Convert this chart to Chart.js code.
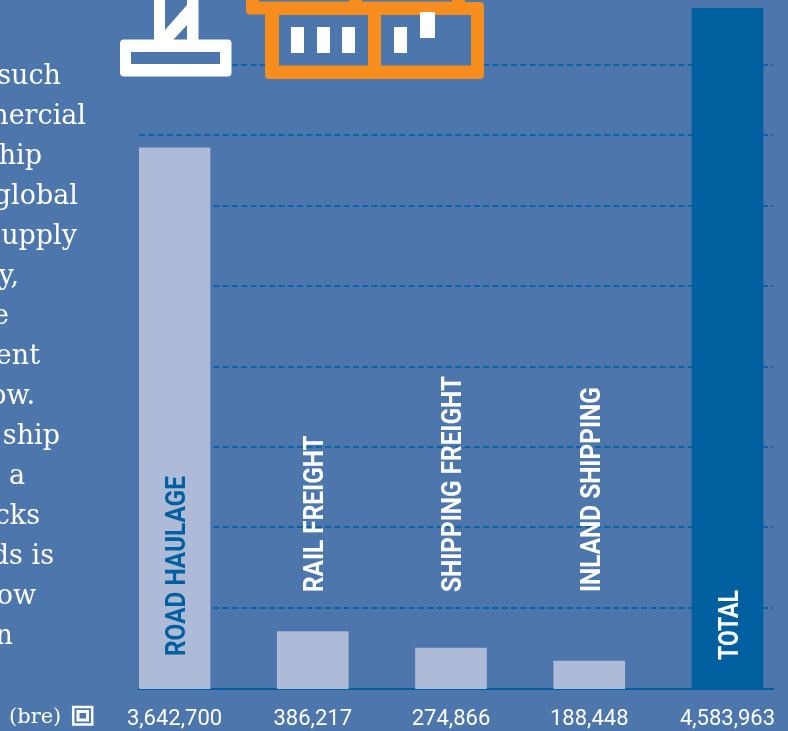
<!DOCTYPE html>
<html>
<head>
<meta charset="utf-8">
<style>
  html, body { margin: 0; padding: 0; background: #4d76ad; overflow: hidden; }
  #wrap { position: relative; width: 788px; height: 731px; }
</style>
</head>
<body>
<div id="wrap"><canvas id="graphCanvas" width="788" height="731"></canvas></div>
<script src="https://cdn.jsdelivr.net/npm/chart.js@4"></script>
<script>
const categories = ['ROAD HAULAGE', 'RAIL FREIGHT', 'SHIPPING FREIGHT', 'INLAND SHIPPING', 'TOTAL'];
const tonnes = [3642700, 386217, 274866, 188448, 4583963];
const valueLabels = ['3,642,700', '386,217', '274,866', '188,448', '4,583,963'];
const gridValues = [545000, 1090000, 1629000, 2167000, 2713000, 3251000, 3732000, 4200000];

// what is left of the paragraph running in from the left edge
const bodyLines = ['such', 'mercial', 'hip', 'global', 'upply', 'y,', 'e', 'ent', 'ow.', 'ship', 'a', 'cks', 'ds is', 'ow', 'n'];
const bodyLineEnds = [61, 86, 42, 78, 77, 19, 9, 40, 35, 60, 25, 40, 54, 36, 13];

const BG = '#4d76ad';
const LIGHT = '#adbad8';
const DARK = '#005f9f';
const GRID = '#0a65a6';
const ORANGE = '#f78d1e';
const WHITE = '#ffffff';

function rr(ctx, x, y, w, h, r) {
  ctx.beginPath();
  ctx.roundRect(x, y, w, h, r);
}

function drawCrane(ctx) {
  ctx.fillStyle = WHITE;
  ctx.fillRect(154, 0, 11, 42);
  ctx.fillRect(187, 0, 11.5, 42);
  ctx.beginPath();
  ctx.moveTo(165, 30);
  ctx.lineTo(187, 5);
  ctx.lineTo(187, 25);
  ctx.lineTo(173, 40);
  ctx.lineTo(165, 40);
  ctx.closePath();
  ctx.fill();
  rr(ctx, 120, 39.5, 111.5, 37, 4);
  ctx.fill();
  ctx.fillStyle = BG;
  ctx.fillRect(131, 52, 89, 12);
}

function drawContainers(ctx) {
  ctx.fillStyle = ORANGE;
  // upper row, mostly off the top
  rr(ctx, 246, -20, 219, 34.5, 4);
  ctx.fill();
  // lower row
  rr(ctx, 265, 2, 219, 77, 4);
  ctx.fill();
  ctx.fillStyle = BG;
  ctx.fillRect(259, -20, 90, 21.5);
  ctx.fillRect(362, -20, 90, 21.5);
  ctx.fillRect(279, 15, 89, 50.5);
  ctx.fillRect(381, 15, 90, 50.5);
  ctx.fillStyle = WHITE;
  ctx.fillRect(291, 27, 13, 26);
  ctx.fillRect(317, 27, 13, 26);
  ctx.fillRect(342, 27, 13, 26);
  ctx.fillRect(394, 27, 13, 26);
  ctx.fillRect(420, 12, 15, 26);
}

function drawUnitIcon(ctx) {
  ctx.strokeStyle = WHITE;
  ctx.lineWidth = 2.5;
  ctx.strokeRect(73.2, 707, 19, 17.5);
  ctx.lineWidth = 3;
  ctx.strokeRect(78, 711.5, 9.5, 8.5);
}

const decorations = {
  id: 'decorations',
  afterDraw(chart) {
    const ctx = chart.ctx;
    const x = chart.scales.x;
    ctx.save();
    ctx.textBaseline = 'alphabetic';

    // rotated category names
    const starts = [656, 592, 592, 592, 660];
    categories.forEach((name, i) => {
      ctx.save();
      ctx.translate(x.getPixelForValue(i) + 10.5, starts[i]);
      ctx.rotate(-Math.PI / 2);
      ctx.scale(i === categories.length - 1 ? 0.82 : 0.87, 1);
      ctx.font = '700 28px Roboto';
      ctx.textAlign = 'left';
      ctx.fillStyle = i === 0 ? DARK : WHITE;
      ctx.fillText(name, 0, 0);
      ctx.restore();
    });

    drawCrane(ctx);
    drawContainers(ctx);

    ctx.fillStyle = WHITE;
    ctx.font = '27px "DejaVu Serif"';
    ctx.textAlign = 'right';
    bodyLines.forEach((line, i) => {
      ctx.fillText(line, bodyLineEnds[i], 84 + i * 40);
    });

    ctx.font = '21px "DejaVu Serif"';
    ctx.textAlign = 'left';
    ctx.fillText('(bre)', 9, 723);
    drawUnitIcon(ctx);
    ctx.restore();
  }
};

new Chart(document.getElementById('graphCanvas').getContext('2d'), {
  type: 'bar',
  data: {
    datasets: [{
      data: tonnes.map((v, i) => ({ x: i, y: v })),
      backgroundColor: tonnes.map((v, i) => (i === tonnes.length - 1 ? DARK : LIGHT)),
      borderWidth: 0,
      barThickness: 71
    }]
  },
  options: {
    responsive: false,
    animation: false,
    layout: { padding: { left: 139, right: 15, top: 8, bottom: 0 } },
    plugins: { legend: { display: false }, tooltip: { enabled: false } },
    scales: {
      x: {
        type: 'linear',
        offset: false,
        min: -0.2568,
        max: 4.3292,
        afterBuildTicks(scale) {
          scale.ticks = categories.map((c, i) => ({ value: i }));
        },
        afterFit(scale) {
          scale.height = 42;
          scale.paddingLeft = 0;
          scale.paddingRight = 0;
        },
        grid: { display: false, offset: false },
        border: { display: true, color: DARK, width: 2 },
        ticks: {
          autoSkip: false,
          maxRotation: 0,
          padding: 9,
          color: WHITE,
          font: { family: 'Roboto', size: 22, weight: 400 },
          callback: (v, i) => valueLabels[i]
        }
      },
      y: {
        min: 0,
        max: 4583963,
        afterBuildTicks(scale) {
          scale.ticks = gridValues.map(value => ({ value }));
        },
        afterFit(scale) { scale.width = 0; },
        ticks: { display: false },
        grid: { color: GRID, lineWidth: 2, drawTicks: false },
        border: { display: false, dash: [6, 3.3] }
      }
    }
  },
  plugins: [decorations]
});
</script>
</body>
</html>
